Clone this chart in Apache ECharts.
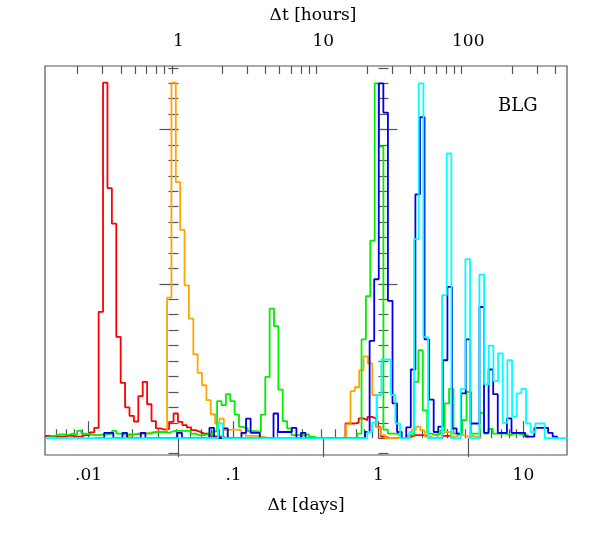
<!DOCTYPE html>
<html>
<head>
<meta charset="utf-8">
<script src="https://cdn.jsdelivr.net/npm/echarts@6/dist/echarts.min.js"></script>
<style>
  html, body { margin: 0; padding: 0; background: #fff; }
  #chart { width: 599px; height: 534px; }
</style>
</head>
<body>
<div id="chart"></div>
<script>
// axis ranges (days on the bottom, hours on the top)
const dayMin = 0.005
const dayMax = 20
const dayMajor = [0.01, 0.1, 1, 10]
const dayLabels = ['.01', '.1', '1', '10']
const hourMajor = [1, 10, 100]
const hourLabels = ['1', '10', '100']
const yMin = -1.09
const yMax = 24.12
const yMajor = [0, 10, 20]

// histograms: log10 of first bin edge (days), bin width (dex), heights
const redStart = -2.2958
const redStep = 0.03041
const redCounts = [
  0.15, 0.1, 0.1, 0.1, 0.15, 0.15, 0.1, 0.1, 0.2, 0.2, 0.37, 0.67,
  8.19, 23.04, 16.2, 13.9, 6.57, 3.59, 2.0, 1.45, 1.08, 2.72, 3.65, 2.2, 1.11, 0.63,
  0.55, 0.6, 1.06, 1.6, 1.06, 0.85, 0.7, 0.52, 0.41, 0.3, 0.3, 0.15, 0.1, 0.1,
  0, 0, 0, 0, 0, 0, 0, 0, 0, 0, 0, 0, 0, 0, 0, 0, 0, 0, 0, 0, 0, 0, 0, 0, 0, 0, 0, 0,
  0.95, 0.95, 1.0, 1.28, 1.17, 1.38, 1.28, 0.73, 0.1,
  0, 0, 0, 0, 0,
  0.1, 0.2, 0.2, 0.2, 0.1,
  0, 0, 0,
  0.15, 0.15
]

const orangeStart = -1.7599
const orangeStep = 0.03013
const orangeCounts = [
  0.1, 0.2, 0.24, 0.24, 0.3, 0.35, 0.4, 0.4, 0.4, 0.4, 9.11,
  23.04, 16.6, 13.5, 9.9, 7.75, 5.44, 4.23, 3.43, 2.46, 1.55, 0.95, 1.27, 0.52, 0.56,
  0.56, 0.5, 0.3, 0.15, 0.15, 0.15, 0.1,
  0, 0, 0, 0, 0, 0, 0, 0, 0, 0, 0, 0, 0, 0, 0, 0, 0, 0,
  0.1, 0.9, 3.05, 3.3, 4.4, 5.3, 4.84, 2.8, 0.7, 0.2,
  0, 0, 0, 0, 0,
  0.2, 0.55, 0.75, 0.5, 0.1,
  0, 0,
  0.3, 0.4, 0.4, 0.1, 0.2, 0.2, 0.1, 0.15, 0.1,
  0
]

const greenStart = -2.26095
const greenStep = 0.03020
const greenCounts = [
  0.15, 0.24, 0.24, 0.2, 0.3, 0.2, 0.47, 0.3, 0.25, 0.2, 0.2, 0.24, 0.24, 0.3, 0.47,
  0.3, 0.24, 0.24, 0.24, 0.3, 0.35, 0.3, 0.3, 0.4, 0.4, 0.4, 0.35, 0.45, 0.47, 0.47,
  0.47, 0.47, 0.3, 0.2, 0.2, 0.24, 0.24, 0.45,
  2.4, 2.14, 2.85, 2.4, 1.53, 0.73, 0.63, 0.45, 0.45, 0.4, 1.53, 3.97, 8.4, 7.26,
  3.15, 1.1, 0.63, 0.2, 0.2, 0.2, 0.24, 0.1,
  0, 0, 0, 0, 0, 0, 0, 0, 0, 0,
  0.3, 6.4, 9.2, 12.8, 23.0, 18.9, 0.56, 0.3, 0.3, 0.2,
  0, 0,
  0.2, 3.65, 5.7, 1.8, 0.3,
  0.2, 0.3, 0.5, 2.25, 3.2, 0.3,
  0.3, 1.17, 3.0, 0.3,
  0.3, 1.64,
  0.3, 0.6, 0.3, 0.3, 0.3, 0.2, 0.3, 0.3, 0.2, 0.2
]

const blueStart = -1.95577
const blueStep = 0.03158
const blueCounts = [
  0, 0, 0.35, 0.35, 0, 0, 0.35, 0, 0, 0, 0.35, 0, 0, 0, 0, 0, 0, 0, 0.35, 0,
  0, 0, 0, 0, 0, 0.67, 0, 0, 0.63, 0, 0, 0, 0.35, 1.27, 0.35, 0.35, 0, 0, 0, 1.6,
  0.4, 0.4, 0.4, 0.67, 0, 0.35, 0, 0, 0, 0, 0, 0, 0, 0, 0, 0, 0, 0, 0, 0.4,
  6.3, 10.3, 23.0, 21.1, 8.9, 2.25, 0.4, 0, 0.7, 4.45, 15.8, 20.8, 6.4, 2.5, 0.4,
  0.75, 5.05, 9.8, 0.63, 0.3, 2.9, 6.4, 0.95, 0.95, 8.5, 0.35, 4.45, 2.85, 0.35,
  0.35, 1.28, 0.35, 0.35, 0.35, 0.1, 0.1, 0.67, 0.67, 0.67, 0.35, 0.1
]

const cyanStart = -1.17111
const cyanStep = 0.03220
const cyanCounts = [
  0, 0, 0.95,
  0, 0, 0, 0, 0, 0, 0, 0, 0, 0, 0, 0, 0, 0, 0, 0, 0, 0, 0, 0, 0, 0, 0, 0, 0, 0, 0,
  0, 0, 0, 0,
  0.4, 1.0,
  2.8, 5.1, 5.1, 2.8, 0.95, 0, 0, 0.4, 12.9, 23.0, 6.55, 0, 0, 0, 9.27, 18.45, 0, 0,
  3.2, 11.6, 0, 0, 10.6, 3.5, 6.0, 3.7, 5.5, 1.0, 5.06, 1.4, 2.9, 3.2, 0.95, 0.4,
  0.95, 0.95, 0
]

const FONT = 'DejaVu Serif'
const INK = '#555'
const log10 = v => Math.log10(v)

// minor ticks 2..9 of every decade inside a range
function minorTicks (lo, hi) {
  const out = []
  for (let p = Math.floor(log10(lo)); p <= Math.ceil(log10(hi)); p++) {
    for (let m = 2; m <= 9; m++) {
      const v = m * Math.pow(10, p)
      if (v > lo * 1.0001 && v < hi * 0.9999) out.push(log10(v))
    }
  }
  return out
}

function intTicks (lo, hi) {
  const out = []
  for (let v = Math.ceil(lo); v <= Math.floor(hi); v++) out.push(v)
  return out
}

// step outline of a histogram
function histPoints (start, step, counts) {
  const edge = i => Math.pow(10, start + i * step)
  const pts = [[edge(0), 0]]
  counts.forEach((c, i) => pts.push([edge(i), c]))
  pts.push([edge(counts.length), counts[counts.length - 1]])
  pts.push([edge(counts.length), 0])
  return pts
}

function labelFor (majors, labels) {
  return v => {
    const i = majors.findIndex(m => Math.abs(log10(m) - v) < 1e-6)
    return i < 0 ? '' : labels[i]
  }
}

function tickAxis (pos, min, max, values, length, extra) {
  return Object.assign({
    type: 'value',
    position: pos,
    min,
    max,
    axisLine: { show: false },
    axisTick: { show: true, inside: true, length, customValues: values, lineStyle: { color: INK, width: 1.2 } },
    axisLabel: { show: false },
    splitLine: { show: false }
  }, extra || {})
}

const hourMin = dayMin * 24
const hourMax = dayMax * 24

const chart = echarts.init(document.getElementById('chart'))

const series = [
  ['#ff0000', histPoints(redStart, redStep, redCounts)],
  ['#ffa500', histPoints(orangeStart, orangeStep, orangeCounts)],
  ['#00ee00', histPoints(greenStart, greenStep, greenCounts)],
  ['#0000e6', histPoints(blueStart, blueStep, blueCounts)],
  ['#00ffff', [[dayMin, 0]].concat(histPoints(cyanStart, cyanStep, cyanCounts), [[dayMax, 0]])]
].map(([color, data]) => ({
  type: 'line',
  step: 'end',
  xAxisIndex: 0,
  yAxisIndex: 0,
  data,
  showSymbol: false,
  symbol: 'none',
  lineStyle: { color, width: 1.8 },
  animation: false
}))

chart.setOption({
  backgroundColor: '#fff',
  animation: false,
  title: {
    text: 'BLG',
    left: 493,
    top: 92,
    textStyle: { fontFamily: FONT, fontSize: 18, fontWeight: 'normal', color: '#000' }
  },
  grid: {
    left: 45,
    right: 32,
    top: 66,
    bottom: 79,
    show: true,
    borderColor: INK,
    borderWidth: 1.2,
    backgroundColor: 'transparent'
  },
  xAxis: [
    { type: 'log', logBase: 10, min: dayMin, max: dayMax, show: false },
    tickAxis('bottom', log10(dayMin), log10(dayMax), dayMajor.map(log10), 17, {
      axisLabel: {
        show: true,
        customValues: dayMajor.map(log10),
        formatter: labelFor(dayMajor, dayLabels),
        margin: 12,
        fontFamily: FONT,
        fontSize: 17,
        color: '#000'
      },
      name: 'Δt [days]',
      nameLocation: 'middle',
      nameGap: 42,
      nameTextStyle: { fontFamily: FONT, fontSize: 17, color: '#000' }
    }),
    tickAxis('bottom', log10(dayMin), log10(dayMax), minorTicks(dayMin, dayMax), 9),
    tickAxis('top', log10(hourMin), log10(hourMax), hourMajor.map(log10), 19, {
      axisLabel: {
        show: true,
        customValues: hourMajor.map(log10),
        formatter: labelFor(hourMajor, hourLabels),
        margin: 16,
        fontFamily: FONT,
        fontSize: 17,
        color: '#000'
      },
      name: 'Δt [hours]',
      nameLocation: 'middle',
      nameGap: 42,
      nameTextStyle: { fontFamily: FONT, fontSize: 17, color: '#000', padding: [0, 0, 0, 14] }
    }),
    tickAxis('top', log10(hourMin), log10(hourMax), minorTicks(hourMin, hourMax), 8)
  ],
  yAxis: [
    tickAxis('left', yMin, yMax, yMajor, 19),
    tickAxis('left', yMin, yMax, intTicks(yMin, yMax), 10),
    tickAxis('right', yMin, yMax, yMajor, 19),
    tickAxis('right', yMin, yMax, intTicks(yMin, yMax), 10)
  ],
  series
})
</script>
</body>
</html>
